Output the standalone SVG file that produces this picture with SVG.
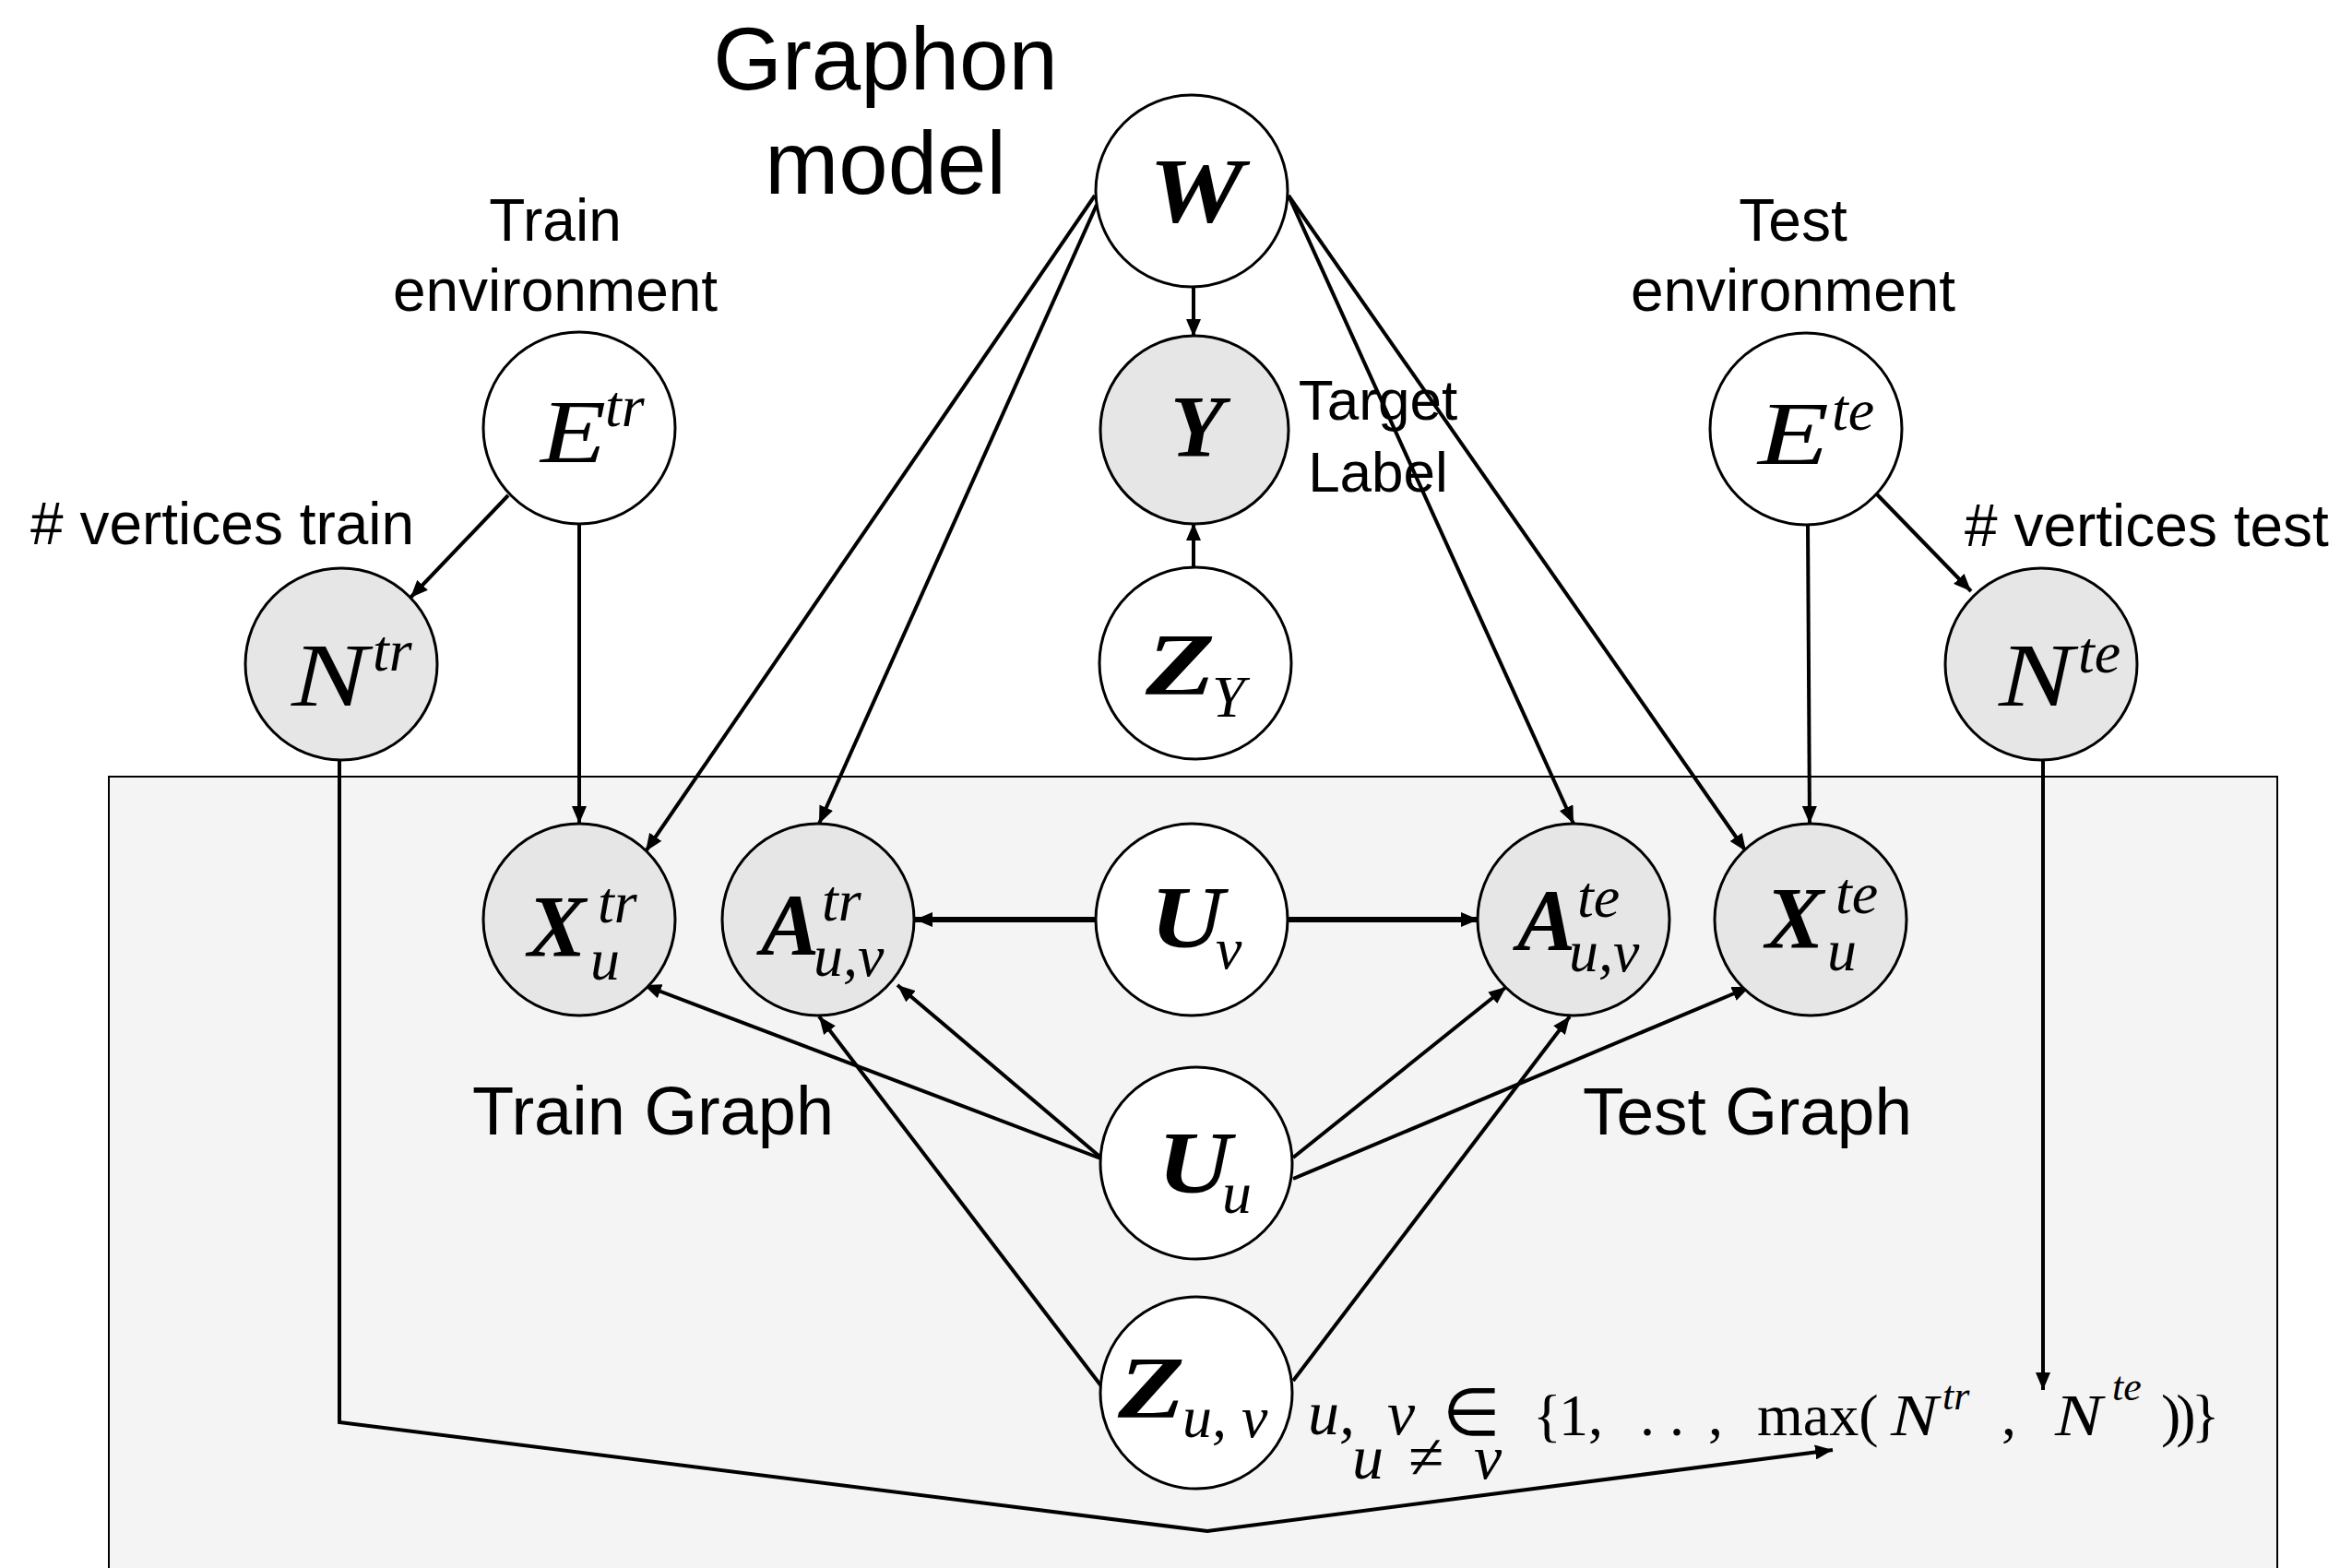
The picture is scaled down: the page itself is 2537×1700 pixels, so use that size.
<svg xmlns="http://www.w3.org/2000/svg" width="2537" height="1700" viewBox="0 0 2537 1700">
<style>
.lbl{font-family:"Liberation Sans",Arial,sans-serif;fill:#000}
.m{font-family:"Liberation Serif","Times New Roman",serif;fill:#000}
.bi{font-weight:bold;font-style:italic;font-size:95px}
.it{font-style:italic}
.big{font-size:97px}
.sub{font-size:64px}
.f{font-size:64px}
.node{stroke:#000;stroke-width:3}
.w{fill:#fff}
.g{fill:#e6e6e6}
.c{fill:none;stroke:#000;stroke-width:4;marker-end:url(#ah)}
.t{stroke-width:6}
</style>
<defs>
<marker id="ah" markerUnits="userSpaceOnUse" markerWidth="20" markerHeight="16" refX="19" refY="8" orient="auto">
<path d="M0,0 L19,8 L0,16 z" fill="#000"/>
</marker>
</defs>
<rect width="2537" height="1700" fill="#fff"/>
<rect id="plate" x="118" y="842" width="2351" height="900" fill="#f4f4f4" stroke="#000" stroke-width="2"/>

<g id="labels">
<text class="lbl" x="960" y="97" font-size="96" text-anchor="middle">Graphon</text>
<text class="lbl" x="960" y="210" font-size="96" text-anchor="middle">model</text>
<text class="lbl" x="602" y="261" font-size="64" text-anchor="middle">Train</text>
<text class="lbl" x="602" y="337" font-size="64" text-anchor="middle">environment</text>
<text class="lbl" x="1944" y="261" font-size="64" text-anchor="middle">Test</text>
<text class="lbl" x="1944" y="337" font-size="64" text-anchor="middle">environment</text>
<text class="lbl" x="33" y="590" font-size="64"># vertices train</text>
<text class="lbl" x="2130" y="592" font-size="64"># vertices test</text>
<text class="lbl" x="1494" y="455" font-size="62" text-anchor="middle">Target</text>
<text class="lbl" x="1494" y="533" font-size="62" text-anchor="middle">Label</text>
<text class="lbl" x="512" y="1230" font-size="74">Train Graph</text>
<text class="lbl" x="1716" y="1230" font-size="73">Test Graph</text>
</g>

<g id="connectors">
<line class="c" x1="1294" y1="311" x2="1294" y2="365"/>
<line class="c" x1="1294" y1="615" x2="1294" y2="567"/>
<line class="c" x1="1187" y1="212" x2="700" y2="923"/>
<line class="c" x1="1189" y1="222" x2="888" y2="893"/>
<line class="c" x1="1397" y1="212" x2="1706" y2="893"/>
<line class="c" x1="1397" y1="212" x2="1893" y2="923"/>
<line class="c" x1="551" y1="537" x2="445" y2="648"/>
<line class="c" x1="628" y1="567" x2="628" y2="893"/>
<line class="c" x1="2035" y1="536" x2="2137" y2="641"/>
<line class="c" x1="1960" y1="568" x2="1962" y2="893"/>
<polyline class="c" points="368,824 368,1542 1309,1660 1987,1572"/>
<line class="c" x1="2215" y1="824" x2="2215" y2="1507"/>
<line class="c t" x1="1188" y1="997" x2="992" y2="997"/>
<line class="c t" x1="1395" y1="997" x2="1603" y2="997"/>
<line class="c" x1="1196" y1="1257" x2="698" y2="1068"/>
<line class="c" x1="1196" y1="1257" x2="973" y2="1068"/>
<line class="c" x1="1198" y1="1508" x2="888" y2="1102"/>
<line class="c" x1="1402" y1="1255" x2="1633" y2="1070"/>
<line class="c" x1="1402" y1="1278" x2="1897" y2="1070"/>
<line class="c" x1="1402" y1="1497" x2="1702" y2="1102"/>
</g>

<g id="node-W"><circle class="node w" cx="1292" cy="207" r="104"/>
<text class="m bi" transform="translate(1297,240) scale(1.16,1)" text-anchor="middle" style="font-size:100px">W</text></g>
<g id="node-Y"><circle class="node g" cx="1295" cy="466" r="102"/>
<text class="m bi" x="1298" y="495" text-anchor="middle">Y</text></g>
<g id="node-ZY"><circle class="node w" cx="1296" cy="719" r="104"/>
<text class="m bi" transform="translate(1242,753) scale(1.3,1)">Z</text><text class="m it sub" x="1314" y="777">Y</text></g>
<g id="node-Etr"><circle class="node w" cx="628" cy="464" r="104"/>
<text class="m it big" transform="translate(586,501) scale(1.2,1)">E</text><text class="m it sub" x="656" y="462">tr</text></g>
<g id="node-Ntr"><circle class="node g" cx="370" cy="720" r="104"/>
<text class="m it big" transform="translate(316,765) scale(1.28,1)">N</text><text class="m it sub" x="404" y="727">tr</text></g>
<g id="node-Ete"><circle class="node w" cx="1958" cy="465" r="104"/>
<text class="m it big" transform="translate(1906,503) scale(1.3,1)">E</text><text class="m it sub" x="1986" y="466">te</text></g>
<g id="node-Nte"><circle class="node g" cx="2213" cy="720" r="104"/>
<text class="m it big" transform="translate(2167,765) scale(1.25,1)">N</text><text class="m it sub" x="2253" y="729">te</text></g>
<g id="node-Xtr"><circle class="node g" cx="628" cy="997" r="104"/>
<text class="m bi" x="572" y="1037">X</text><text class="m it sub" x="648" y="1000">tr</text><text class="m it sub" x="640" y="1062">u</text></g>
<g id="node-Atr"><circle class="node g" cx="887" cy="997" r="104"/>
<text class="m bi" x="825" y="1035">A</text><text class="m it sub" x="891" y="998">tr</text><text class="m it sub" x="882" y="1058">u,v</text></g>
<g id="node-Uv"><circle class="node w" cx="1292" cy="997" r="104"/>
<text class="m bi" transform="translate(1247,1027) scale(1.17,1)">U</text><text class="m it sub" x="1318" y="1050">v</text></g>
<g id="node-Ate"><circle class="node g" cx="1706" cy="997" r="104"/>
<text class="m bi" x="1645" y="1030">A</text><text class="m it sub" x="1710" y="994">te</text><text class="m it sub" x="1701" y="1053">u,v</text></g>
<g id="node-Xte"><circle class="node g" cx="1963" cy="997" r="104"/>
<text class="m bi" x="1914" y="1028">X</text><text class="m it sub" x="1990" y="990">te</text><text class="m it sub" x="1981" y="1052">u</text></g>
<g id="node-Uu"><circle class="node w" cx="1297" cy="1261" r="104"/>
<text class="m bi" transform="translate(1255,1293) scale(1.17,1)">U</text><text class="m it sub" x="1325" y="1315">u</text></g>
<g id="node-Zuv"><circle class="node w" cx="1297" cy="1510" r="104"/>
<text class="m bi" transform="translate(1212,1537) scale(1.25,1)">Z</text><text class="m it sub" x="1282" y="1558">u, v</text></g>

<g id="range">
<text class="m it" font-size="68" x="1418" y="1555">u,</text>
<text class="m it" font-size="68" x="1504" y="1555">v</text>
<text class="m" font-size="72" x="1564" y="1556">∈</text>
<text class="m f" x="1662" y="1556">{</text>
<text class="m f" x="1690" y="1556">1,</text>
<text class="m f" x="1778" y="1556">. .</text>
<text class="m f" x="1852" y="1556">,</text>
<text class="m f" x="1905" y="1556">max(</text>
<text class="m it f" transform="translate(2050,1556) scale(1.2,1)">N</text>
<text class="m it" font-size="44" x="2106" y="1528">tr</text>
<text class="m f" x="2170" y="1556">,</text>
<text class="m it f" transform="translate(2228,1556) scale(1.2,1)">N</text>
<text class="m it" font-size="44" x="2290" y="1518">te</text>
<text class="m f" x="2343" y="1556" letter-spacing="-5">))}</text>
<text class="m it" font-size="68" x="1466" y="1603">u</text>
<text class="m" font-size="70" x="1527" y="1603">≠</text>
<text class="m it" font-size="68" x="1598" y="1603">v</text>
</g>
</svg>
